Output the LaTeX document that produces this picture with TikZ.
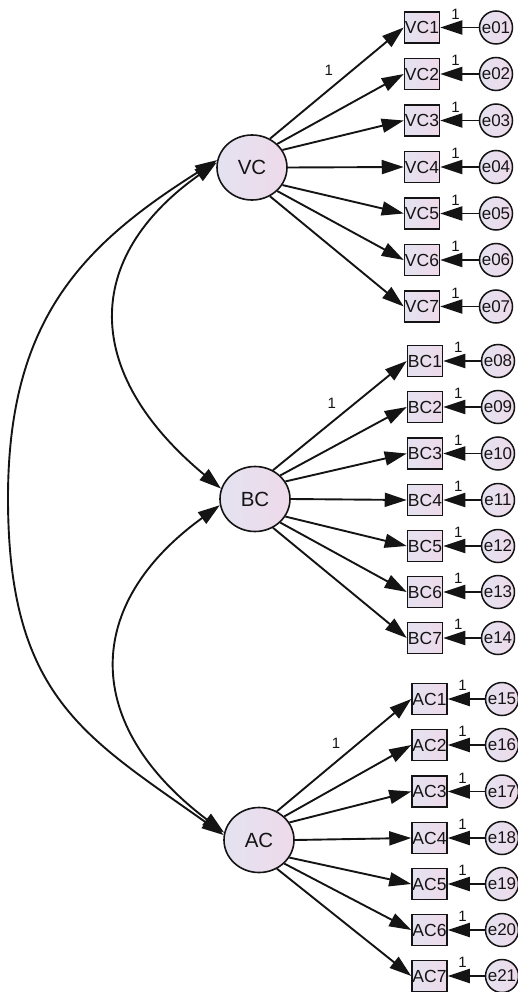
\documentclass[tikz,border=0pt]{standalone}
\usepackage{fontspec}
\setmainfont{Liberation Sans}
\usetikzlibrary{shapes.geometric,arrows.meta}
\definecolor{fillL}{RGB}{228,226,240}
\definecolor{fillR}{RGB}{238,218,234}
\definecolor{ink}{RGB}{20,20,20}
\begin{document}
\begin{tikzpicture}[x=1pt,y=-1pt,
  lat/.style={ellipse, draw=ink, line width=1.6pt, minimum width=70pt, minimum height=65pt, inner sep=0pt, left color=fillL, right color=fillR, text=ink, font=\fontsize{20.5}{21}\selectfont},
  ind/.style={rectangle, draw=ink, line width=1.5pt, minimum width=35pt, minimum height=31pt, inner sep=0pt, left color=fillL, right color=fillR, text=ink, font=\fontsize{17.5}{18}\selectfont},
  err/.style={circle, draw=ink, line width=1.5pt, minimum size=33pt, inner sep=0pt, left color=fillL, right color=fillR, text=ink, font=\fontsize{17}{18}\selectfont},
  arr/.style={draw=ink, line width=1.9pt, -{Triangle[length=22pt,width=14pt]}},
  cov/.style={draw=ink, line width=1.9pt, {Triangle[length=22pt,width=14pt]}-{Triangle[length=22pt,width=14pt]}},
  lbl/.style={font=\fontsize{15}{15}\selectfont, text=ink, inner sep=0pt}]
\useasboundingbox (0,0) rectangle (518,992);

% latent factors
\node[lat] (VC) at (252,167.5) {VC};
\node[lat] (BC) at (255,499) {BC};
\node[lat] (AC) at (259,840) {AC};

% VC indicators
\foreach \i/\y/\e in {1/27.5/01,2/74/02,3/120.5/03,4/167/04,5/213.5/05,6/260/06,7/306.5/07}{
  \node[ind] (VC\i) at (422,\y) {VC\i};
  \node[err] (e\e) at (496,\y) {e\e};
  \draw[arr] (e\e) -- (VC\i) node[lbl,pos=0.6,yshift=13.5pt] {1};
}
% BC indicators
\foreach \i/\y/\e in {1/361/08,2/407/09,3/453.5/10,4/500/11,5/546/12,6/592/13,7/638/14}{
  \node[ind] (BC\i) at (425,\y) {BC\i};
  \node[err] (e\e) at (498,\y) {e\e};
  \draw[arr] (e\e) -- (BC\i) node[lbl,pos=0.6,yshift=13.5pt] {1};
}
% AC indicators
\foreach \i/\y/\e in {1/699/15,2/745/16,3/791.5/17,4/838/18,5/884/19,6/930/20,7/976/21}{
  \node[ind] (AC\i) at (429.5,\y) {AC\i};
  \node[err] (e\e) at (502,\y) {e\e};
  \draw[arr] (e\e) -- (AC\i) node[lbl,pos=0.6,yshift=13.5pt] {1};
}

% loadings
\foreach \f in {VC,BC,AC}{
  \draw[arr] (\f.58) -- (\f1.west) node[lbl,pos=0.44,yshift=19pt] {1};
  \foreach \i/\a in {2/43,3/30,4/0,5/-30,6/-43,7/-58}{
    \draw[arr] (\f.\a) -- (\f\i.west);
  }
}

% covariances
\draw[cov] (VC.168) .. controls (84,244) and (8,318) .. (8,498)
                    .. controls (8,698) and (86,737) .. (AC.172);
\draw[cov] (VC.172) .. controls (82,258) and (82,373) .. (BC.163);
\draw[cov] (BC.190) .. controls (82,605) and (82,725) .. (AC.168);
\end{tikzpicture}
\end{document}
